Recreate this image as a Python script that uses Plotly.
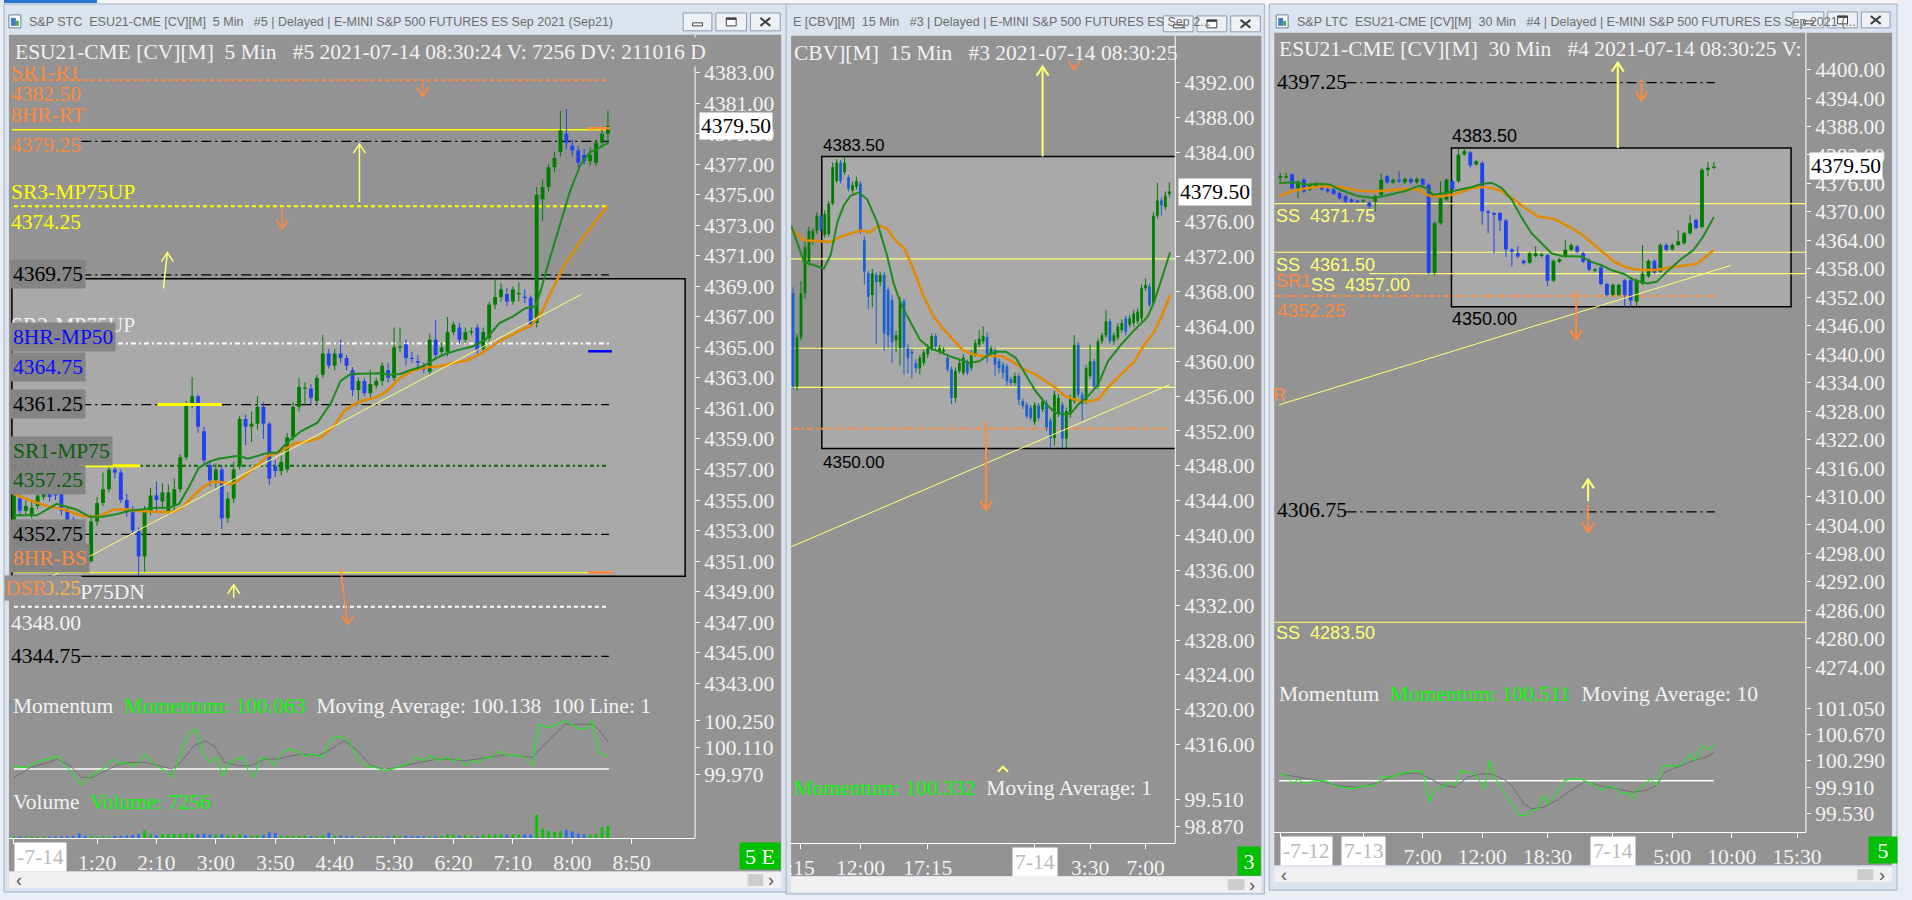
import plotly.graph_objects as go

# ======================= DATA =======================
# ---- Panel 1 : ESU21 5 Min (bar index 0..100, last bar = 08:30) ----
P1_OPEN = [4353.7,4355.1,4354.3,4354.0,4354.6,4355.2,4355.4,4355.4,4355.5,4354.3,
           4353.7,4353.5,4351.5,4351.0,4353.6,4354.8,4355.7,4357.0,4356.8,4355.0,
           4354.2,4353.0,4351.3,4354.3,4355.3,4354.9,4354.2,4354.6,4355.7,4357.8,
           4361.3,4361.8,4359.5,4357.3,4356.3,4357.0,4353.8,4355.1,4357.2,4360.3,
           4359.8,4360.0,4361.1,4360.0,4357.2,4356.9,4357.0,4359.1,4361.1,4362.3,
           4362.3,4361.5,4363.2,4364.6,4363.8,4364.6,4364.3,4363.5,4362.2,4362.8,
           4362.0,4362.5,4362.8,4363.5,4363.0,4365.0,4365.2,4364.3,4364.1,4363.8,
           4363.4,4365.5,4364.7,4364.7,4366.0,4366.3,4365.5,4366.0,4366.3,4364.9,
           4365.6,4367.8,4368.3,4368.5,4368.0,4368.5,4368.3,4368.25,4366.6,4374.7,
           4375.5,4376.8,4377.8,4379.0,4378.2,4377.9,4377.6,4377.2,4377.1,4378.4,
           4379.0]
P1_HIGH = [4355.6,4355.5,4355.0,4354.9,4355.8,4355.9,4355.7,4355.6,4355.8,4354.5,
           4353.9,4353.6,4351.8,4354.0,4355.2,4356.8,4357.3,4357.3,4357.0,4355.4,
           4354.6,4353.2,4354.6,4355.8,4356.2,4356.1,4356.0,4356.4,4358.0,4361.5,
           4363.05,4361.9,4359.8,4357.6,4357.4,4357.2,4355.5,4357.5,4360.5,4360.6,
           4360.8,4361.8,4361.4,4360.1,4357.6,4357.9,4359.4,4361.4,4363.0,4362.7,
           4362.6,4363.2,4365.8,4364.9,4364.9,4365.5,4364.5,4363.7,4363.0,4363.0,
           4363.5,4363.0,4364.0,4364.0,4366.3,4366.3,4365.5,4364.7,4364.5,4364.0,
           4365.9,4366.8,4365.3,4367.0,4366.7,4366.6,4366.3,4366.3,4366.5,4366.3,
           4368.0,4369.5,4369.2,4368.9,4369.0,4369.25,4368.8,4368.4,4375.5,4376.0,
           4377.0,4377.8,4380.5,4380.6,4378.6,4378.2,4378.0,4378.1,4378.6,4379.3,
           4380.5]
P1_LOW = [4353.5,4354.0,4354.0,4353.8,4354.4,4355.0,4354.9,4355.0,4354.0,4353.4,
          4353.2,4351.3,4350.5,4350.9,4353.3,4354.6,4355.5,4356.4,4354.8,4353.9,
          4352.8,4350.1,4350.3,4354.0,4354.3,4354.5,4354.0,4354.3,4355.5,4357.6,
          4361.0,4359.4,4357.3,4355.9,4355.8,4353.1,4353.5,4354.8,4357.0,4358.6,
          4358.8,4359.6,4359.0,4356.0,4356.5,4356.6,4356.8,4358.9,4360.8,4361.2,
          4361.3,4361.3,4363.0,4363.6,4363.5,4364.0,4363.5,4361.8,4361.5,4361.8,
          4361.7,4362.3,4362.5,4362.7,4362.8,4364.7,4363.8,4364.0,4363.6,4363.3,
          4363.2,4364.2,4364.4,4364.4,4365.8,4365.2,4365.3,4365.8,4364.5,4364.6,
          4365.4,4367.5,4368.0,4367.7,4367.8,4368.0,4367.9,4366.3,4366.3,4373.3,
          4375.2,4376.5,4377.5,4378.0,4377.5,4376.8,4377.0,4376.9,4376.9,4378.2,
          4378.3]
P1_CLOSE = [4355.3,4354.3,4354.6,4354.5,4355.3,4355.4,4355.2,4355.3,4354.3,4353.7,
            4353.5,4351.5,4351.0,4353.6,4354.8,4355.7,4357.0,4356.8,4355.0,4354.2,
            4353.0,4351.3,4354.3,4355.3,4355.0,4355.5,4355.5,4355.7,4357.8,4361.3,
            4361.8,4359.8,4357.6,4356.3,4357.0,4353.8,4355.1,4357.0,4360.3,4359.8,
            4360.0,4361.1,4360.0,4356.4,4356.9,4357.5,4359.1,4361.1,4362.4,4362.35,
            4361.7,4363.0,4364.6,4363.8,4364.6,4364.3,4363.8,4362.2,4362.8,4362.0,
            4362.6,4362.8,4363.8,4363.0,4365.0,4365.05,4364.3,4364.25,4364.0,4363.55,
            4365.5,4364.5,4365.0,4366.0,4366.5,4365.5,4366.0,4366.05,4364.8,4366.0,
            4367.8,4368.3,4368.8,4368.0,4368.8,4368.55,4368.25,4366.5,4375.0,4375.5,
            4376.8,4377.4,4379.2,4378.4,4377.9,4377.1,4377.2,4377.6,4378.4,4379.0,
            4379.5]
P1_VOLUME = [1100,900,1000,900,1000,1100,900,1000,1200,1300,1400,3000,
             1500,1300,1000,1200,1000,1400,1300,1700,2000,2600,4800,
             2200,1800,2400,2600,2500,2700,2800,2600,
             2400,2800,2300,2100,2500,2000,1800,2300,2000,1600,1700,
             1900,3400,3300,1500,1400,1300,1400,1500,1300,1200,1700,3300,
             1600,1500,1200,1300,900,1000,1100,1200,1000,1300,
             1500,1300,1500,1200,1400,1300,1100,1200,1400,2200,2000,1600,1800,1500,1300,2000,
             2300,2200,2400,2100,2400,2300,2200,2100,14000,
             5700,4600,3800,4400,5000,4000,3000,2400,2200,2600,6700,7256]
P1_MA_FAST_X = [0,3.9,7.2,10.6,12.8,15,17.2,19.4,21.7,23.9,26.1,27.8,29.4,31.1,32.8,34.4,36.1,37.8,
                39.4,41.1,42.8,44.4,46.1,48.3,51.1,53.3,55,56.7,60,61.7,63.3,65,66.7,68.9,71.1,
                72.8,75,77.2,79.4,81.7,83.9,86.1,87.8,88.9,90.2,91.9,93.6,95.3,97,98.2,100]
P1_MA_FAST = [4354.0,4354.0,4354.75,4354.36,4353.9,4353.9,4354.06,4354.3,4354.4,4354.5,4354.5,
              4354.75,4355.8,4357.1,4357.5,4357.7,4357.8,4357.9,4357.7,4357.9,4358.1,4358.1,
              4358.8,4359.5,4360.07,4361.3,4362.8,4363.26,4363.3,4363.3,4363.2,4363.26,4363.5,
              4363.76,4364.3,4364.6,4364.85,4365.06,4365.5,4366.58,4367.0,4367.56,4367.67,
              4369.0,4370.8,4373.0,4375.2,4376.9,4377.8,4378.0,4378.4]
P1_MA_SLOW_X = [0,2.8,5.6,8.3,11.1,12.8,14.4,16.7,18.9,20.6,22.8,25,26.7,28.3,30,31.7,33.3,35,
                36.7,38.3,40.6,42.8,45,47.2,49.4,51.7,53.9,55.6,57.2,58.9,61.1,62.8,65,67.2,
                69.4,71.7,73.9,76.1,78.3,80,82.2,84.4,87.2,88.9,90.4,92.7,95.3,97.8,100]
P1_MA_SLOW = [4355.4,4354.97,4354.6,4354.4,4354.0,4353.9,4353.93,4354.36,4354.4,4354.3,4354.25,
              4354.2,4354.2,4354.5,4355.2,4355.8,4356.2,4356.16,4356.05,4356.4,4357.14,4357.9,
              4358.2,4358.7,4358.83,4359.1,4359.85,4360.83,4361.26,4361.52,4361.74,4362.13,
              4363.0,4363.48,4363.7,4363.76,4363.98,4364.13,4364.52,4364.95,4365.5,4365.93,
              4366.47,4367.34,4368.6,4370.4,4371.9,4373.2,4374.27]
P1_MOM_X = [0,2.05,4.3,5.8,7.26,8.4,9.5,11.35,12.5,14,15.4,16.6,17.7,18.8,19.9,21,22.1,23.3,24.4,
            25.5,26.5,27.3,28.5,29.6,30.7,31.8,32.9,34.05,35.2,36.3,37.4,38.5,39.6,40.4,41.5,
            42.6,43.7,45.2,46.3,47.4,48.9,50.4,51.9,53.4,54.9,56.4,57.9,59.3,60.8,62.3,63.8,
            65.3,66.4,67.5,69,70.1,71.25,72.7,73.85,75,76.1,77.2,78.3,79.4,80.55,81.7,83.2,
            84.6,85.8,87.25,88.4,89.85,91.3,92.8,94.3,95.4,96.5,97.3,98.4,100.1]
P1_MOM = [100.013,100.008,100.043,100.051,100.069,100.025,99.991,99.913,99.956,99.982,100.008,
          100.051,100.025,100.034,100.017,100.034,100.077,100.034,100.008,99.991,99.956,100.008,
          100.120,100.189,100.207,100.086,100.034,100.060,99.965,100.034,100.051,100.060,99.982,
          99.956,100.051,100.060,100.017,100.086,100.103,100.094,100.069,100.077,100.060,100.155,
          100.172,100.146,100.051,100.017,100.008,99.991,99.999,100.017,100.025,100.060,100.043,
          100.069,100.043,100.060,100.043,100.051,100.017,100.043,100.034,100.060,100.060,
          100.094,100.069,100.072,100.063,100.017,100.233,100.215,100.233,100.250,100.224,
          100.207,100.215,100.250,100.086,100.063]
P1_MOM_MA_X = [0,2.8,5.8,7.26,9.5,11.35,13.2,15.4,17.7,19.9,22.1,24.4,26.6,28.1,30.3,32.2,33.7,
               35.5,37.8,40,42.2,44.5,46.7,48.9,51.2,53.4,55.6,57.9,60.1,62.3,64.6,66.8,69,
               71.25,73.5,75.7,77.9,80.2,82.4,84.6,87.25,89.1,91.3,92.8,95.1,97.3,98.4,100.1]
P1_MOM_MA = [99.956,100.008,100.034,100.051,100.017,99.956,99.956,99.991,100.025,100.034,
             100.034,100.017,99.999,100.034,100.120,100.146,100.120,100.034,100.017,100.017,
             100.051,100.051,100.069,100.077,100.069,100.103,100.146,100.094,100.017,99.999,
             100.008,100.025,100.037,100.051,100.051,100.043,100.051,100.060,100.072,100.069,
             100.060,100.120,100.189,100.233,100.233,100.233,100.207,100.138]
P1_LEVELS = [4382.50, 4379.25, 4378.50, 4374.25, 4369.75, 4365.25,
             4361.25, 4357.25, 4352.75, 4350.25, 4348.00, 4344.75]
P1_BOX = [4350.00, 4369.50]
P1_TREND_X = [0, 95.5]
P1_TREND_Y = [4348.67, 4368.47]
P1_PRICE_TICKS = [4343,4345,4347,4349,4351,4353,4355,4357,4359,4361,4363,4365,4367,4369,
                  4371,4373,4375,4377,4379,4381,4383]
P1_MOM_TICKS = [100.25, 100.11, 99.97]
P1_TIME_IDX = [0, 14, 24, 34, 44, 54, 64, 74, 84, 94, 104]
P1_TIME_TEXT = ['-7-14','1:20','2:10','3:00','3:50','4:40','5:30','6:20','7:10','8:00','8:50']
P1_TIME_BOXED = ['-7-14']

# ---- Panel 2 : 15 Min (bar index 0..95) ----
P2_OPEN = [4367.8,4357.1,4362.7,4367.8,4371.4,4373.7,4375.0,4376.6,4374.5,4374.6,
           4378.1,4380.7,4382.8,4381.7,4381.1,4379.6,4380.0,4380.4,4373.9,4370.1,
           4367.6,4369.9,4369.1,4369.9,4368.2,4367.0,4362.4,4361.5,4366.9,4361.5,
           4361.1,4359.8,4359.2,4359.8,4360.8,4361.5,4362.9,4361.1,4361.1,4360.4,
           4359.1,4355.8,4358.9,4358.7,4359.8,4359.2,4360.8,4361.9,4362.3,4362.8,
           4360.8,4361.3,4360.0,4359.6,4359.4,4357.9,4357.5,4358.3,4355.4,4355.0,
           4354.7,4353.0,4354.9,4354.5,4355.2,4353.2,4351.2,4354.0,4355.0,4351.1,
           4353.9,4355.4,4361.9,4356.2,4355.4,4358.3,4360.0,4357.1,4362.3,4363.0,
           4364.6,4362.3,4362.7,4363.6,4364.9,4364.2,4364.4,4364.6,4364.95,4368.4,
           4368.6,4366.7,4376.7,4378.45,4377.7,4379.2]
P2_HIGH = [4368.5,4363.2,4369.2,4373.9,4375.5,4375.3,4377.1,4376.9,4377.3,4378.4,
           4382.8,4383.2,4383.1,4383.5,4381.4,4380.6,4381.2,4380.7,4374.3,4370.4,
           4370.6,4370.2,4370.3,4370.2,4368.5,4367.6,4363.5,4367.4,4367.2,4362.0,
           4361.4,4360.2,4360.7,4361.4,4362.0,4363.2,4363.2,4361.9,4361.6,4360.8,
           4359.4,4359.3,4360.2,4360.8,4360.2,4361.3,4362.5,4363.6,4364.0,4363.3,
           4361.8,4361.6,4360.3,4359.9,4359.7,4358.2,4358.7,4358.6,4355.7,4355.3,
           4355.0,4355.3,4355.2,4355.8,4355.6,4353.5,4356.6,4356.2,4355.3,4354.7,
           4356.2,4363.0,4362.2,4356.5,4359.6,4361.9,4360.3,4362.6,4363.3,4365.9,
           4364.9,4363.3,4364.4,4364.8,4365.2,4365.3,4365.9,4366.1,4368.8,4369.5,
           4368.9,4377.1,4380.5,4378.8,4379.5,4380.55]
P2_LOW = [4356.8,4356.6,4362.4,4367.2,4371.0,4373.3,4374.6,4374.9,4374.2,4374.3,
          4377.9,4380.5,4380.4,4381.4,4379.5,4379.3,4379.7,4374.6,4368.8,4366.0,
          4366.2,4362.0,4368.6,4361.2,4361.5,4359.8,4361.0,4359.5,4358.5,4358.6,
          4358.0,4358.7,4358.5,4359.5,4360.4,4361.2,4361.2,4360.8,4360.9,4358.8,
          4355.1,4355.3,4358.6,4358.4,4358.4,4358.9,4360.5,4361.6,4362.0,4359.8,
          4360.5,4358.3,4358.6,4358.0,4357.2,4357.2,4357.2,4355.0,4354.5,4353.4,
          4353.2,4352.7,4353.2,4354.2,4352.0,4350.0,4350.3,4353.6,4350.1,4350.0,
          4353.5,4355.1,4355.8,4353.2,4355.1,4358.0,4356.8,4356.8,4362.0,4362.7,
          4362.0,4361.9,4362.4,4363.3,4363.0,4363.9,4364.0,4364.3,4364.6,4368.1,
          4366.2,4366.4,4376.4,4376.7,4377.4,4378.9]
P2_CLOSE = [4357.1,4362.7,4367.8,4373.1,4375.0,4375.0,4376.7,4375.2,4376.9,4378.1,
            4382.3,4382.8,4380.7,4382.8,4379.8,4380.2,4380.7,4375.0,4370.3,4367.4,
            4370.1,4369.1,4369.9,4363.2,4363.0,4362.2,4363.0,4366.9,4361.5,4360.4,
            4360.9,4359.2,4360.4,4361.0,4361.5,4362.9,4361.7,4361.5,4361.3,4359.1,
            4355.8,4358.9,4359.8,4360.4,4358.7,4360.9,4362.1,4362.6,4362.9,4360.8,
            4361.5,4359.6,4359.2,4358.7,4357.7,4357.5,4358.3,4355.6,4354.9,4353.7,
            4353.5,4355.0,4353.5,4355.4,4352.4,4351.2,4356.2,4355.8,4351.1,4354.3,
            4355.8,4361.9,4356.2,4355.1,4359.2,4360.0,4357.1,4362.3,4363.0,4364.6,
            4362.3,4363.0,4364.0,4364.4,4363.4,4364.95,4365.5,4365.7,4368.4,4368.75,
            4366.5,4376.7,4378.45,4377.9,4379.0,4379.5]
P2_MA_FAST_X = [-0.5,2.8,7.8,9.5,11.2,12.8,14.5,16.6,18.7,21.2,23.7,25.3,27,28.7,32,34.5,37,
                39.5,42,44.5,47,49.5,51.2,53.7,56.2,58.7,61.2,63.7,66.2,68.7,70.3,72,74.5,77,
                79.5,82.8,86.2,89.5,91.2,92.8,95.2]
P2_MA_FAST = [4375.6,4371.4,4370.65,4372.2,4375.98,4377.9,4379.0,4379.4,4378.6,4376.0,4372.2,
              4369.1,4366.85,4365.3,4362.5,4361.5,4361.1,4360.6,4360.2,4359.8,4360.0,4360.8,
              4361.1,4361.1,4360.4,4358.5,4356.6,4355.2,4354.1,4353.9,4354.1,4355.05,4356.0,
              4357.3,4360.0,4361.9,4363.6,4365.1,4366.85,4369.1,4372.5]
P2_MA_SLOW_X = [-0.5,1.2,2.8,6.2,9.5,12,14.5,17,19.5,21.6,23.7,26.2,28.2,30.3,32.8,35.3,37.8,
                40.3,42.8,45.3,47.8,50.3,52.8,55.3,57.8,61.2,63.7,66.2,68.7,71.2,73.7,77,79.5,
                82.8,86.2,88.7,91.2,93.2,95.2]
P2_MA_SLOW = [4375.2,4374.5,4373.9,4373.8,4373.7,4374.3,4374.65,4375.0,4374.8,4375.6,4375.2,
              4373.7,4372.9,4370.65,4367.6,4365.3,4363.8,4362.5,4361.3,4360.8,4360.6,4360.6,
              4360.6,4360.0,4359.2,4358.5,4357.7,4357.0,4356.0,4355.6,4355.35,4355.6,4357.0,
              4358.5,4360.0,4361.9,4363.4,4365.3,4367.6]
P2_LEVELS = [4371.75, 4361.50, 4357.00, 4352.25]
P2_BOX = [4350.00, 4383.50]
P2_TREND_X = [-0.5, 95]
P2_TREND_Y = [4338.7, 4357.3]
P2_PRICE_TICKS = [4316,4320,4324,4328,4332,4336,4340,4344,4348,4352,4356,4360,4364,4368,
                  4372,4376,4384,4388,4392]
P2_MOM_TICKS = [99.51, 98.87]
P2_TIME_IDX = [2, 17, 34, 61, 75, 89]
P2_TIME_TEXT = [':15', '12:00', '17:15', '7-14', '3:30', '7:00']
P2_TIME_BOXED = ['7-14']

# ---- Panel 3 : 30 Min (bar index 0..73) ----
P3_OPEN = [4377.2,4377.3,4377.9,4375.0,4376.8,4374.7,4375.4,4375.7,4374.8,4374.7,
           4374.0,4373.3,4372.6,4372.25,4372.3,4371.9,4372.2,4373.6,4377.5,4376.2,
           4376.8,4376.24,4376.94,4376.24,4376.94,4375.74,4357.2,4367.6,4372.6,4376.45,
           4376.45,4382.1,4382.6,4380.0,4380.33,4370.1,4369.75,4369.75,4368.2,4362.1,
           4361.3,4359.7,4359.3,4360.7,4360.7,4360.9,4355.5,4359.5,4360.6,4362.0,
           4362.7,4361.3,4359.9,4357.6,4358.3,4354.8,4352.5,4352.5,4355.6,4355.6,
           4351.1,4354.9,4356.4,4359.7,4357.4,4363.05,4362.1,4363.05,4363.4,4365.5,
           4368.3,4366.8,4378.9,4379.3]
P3_HIGH = [4378.2,4378.3,4378.1,4376.7,4377.2,4376.0,4376.4,4376.0,4375.1,4375.0,
           4374.3,4373.6,4372.9,4372.5,4372.7,4372.2,4373.6,4378.2,4377.8,4377.1,
           4378.56,4377.3,4377.3,4377.3,4377.2,4376.0,4368.0,4376.45,4377.1,4376.8,
           4383.15,4383.5,4382.9,4381.0,4380.7,4370.4,4370.0,4370.0,4368.5,4362.4,
           4362.8,4360.0,4361.6,4362.8,4361.4,4361.2,4360.0,4360.3,4364.1,4363.4,
           4363.0,4361.6,4360.2,4358.2,4358.6,4355.1,4354.9,4354.9,4355.9,4355.9,
           4356.0,4363.0,4360.0,4360.0,4363.4,4363.4,4363.4,4366.2,4365.8,4369.4,
           4368.6,4379.3,4380.54,4380.54]
P3_LOW = [4376.1,4377.0,4374.7,4372.9,4374.0,4374.4,4375.1,4374.5,4374.0,4373.5,
          4372.6,4371.9,4371.9,4371.9,4372.0,4370.5,4370.1,4373.3,4375.9,4375.9,
          4376.1,4375.9,4375.9,4375.9,4375.4,4356.9,4356.7,4367.3,4372.3,4374.5,
          4376.1,4381.8,4379.3,4379.7,4367.3,4365.5,4361.3,4366.0,4360.5,4358.5,
          4360.3,4358.9,4359.0,4360.4,4360.4,4354.4,4355.2,4359.2,4360.3,4361.7,
          4361.3,4359.2,4357.5,4357.3,4354.5,4352.2,4352.2,4352.2,4350.0,4350.0,
          4350.1,4354.6,4356.1,4356.9,4357.1,4361.7,4361.8,4362.8,4363.1,4365.2,
          4366.3,4366.5,4377.5,4379.0]
P3_CLOSE = [4377.5,4377.5,4375.0,4376.4,4374.3,4375.7,4376.1,4374.8,4374.3,4373.8,
            4372.9,4372.2,4372.15,4372.2,4372.36,4371.2,4373.3,4376.8,4376.2,4376.8,
            4376.45,4376.94,4376.24,4376.94,4375.74,4357.2,4367.6,4372.9,4376.8,4374.8,
            4382.1,4382.8,4379.8,4380.7,4370.1,4369.75,4369.4,4368.2,4362.1,4361.6,
            4360.6,4359.2,4361.3,4361.3,4361.1,4355.5,4359.7,4360.0,4362.0,4363.05,
            4361.6,4359.5,4357.8,4357.9,4354.8,4352.5,4354.6,4354.6,4352.5,4351.3,
            4355.6,4357.0,4359.7,4357.2,4363.05,4362.0,4363.05,4363.75,4365.5,4367.6,
            4366.6,4378.9,4379.3,4379.5]
P3_MA_FAST_X = [-0.17,2.33,4.56,6.78,8.44,10.1,12.9,15.7,18.4,21.2,23.4,24.6,25.7,27.9,30.1,
                32.3,34,35.7,37.3,39,40.7,42.3,44,45.7,47.3,49,50.7,52.3,54,55.7,57.9,59.6,
                61.8,63.4,65.1,67.3,69.6,71.2,73]
P3_MA_FAST = [4376.1,4376.24,4375.74,4375.95,4375.74,4374.68,4373.41,4372.92,4373.63,4374.47,
              4375.53,4375.04,4373.63,4373.98,4374.68,4375.25,4375.95,4376.1,4375.04,4372.57,
              4368.69,4365.52,4363.4,4361.28,4360.72,4360.72,4360.58,4359.52,4358.82,4357.76,
              4356.91,4355.64,4354.94,4355.29,4357.41,4359.87,4361.99,4364.81,4368.9]
P3_MA_SLOW_X = [-0.17,1.78,4.56,7.33,10.1,12.9,15.7,18.4,21.2,23.4,25.1,26.8,29,30.7,32.3,34,
                35.7,37.3,39,41.2,43.4,46.2,47.9,49.6,51.2,52.9,54.6,56.2,57.9,59.6,61.2,63.4,
                65.7,67.9,70.1,71.8,73]
P3_MA_SLOW = [4373.27,4374.33,4375.04,4375.39,4375.25,4374.54,4374.33,4374.54,4374.83,4374.68,
              4373.41,4373.27,4373.63,4374.33,4375.04,4375.25,4375.04,4374.33,4372.92,4370.81,
              4369.04,4368.48,4367.28,4366.22,4364.81,4363.05,4361.28,4359.52,4358.46,4357.9,
              4357.76,4357.76,4358.32,4358.6,4359.03,4360.72,4361.99]
P3_MOM_X = [-0.1,1.05,2.07,3.09,4.1,5.12,6.47,7.83,9.18,10.54,11.9,13.25,14.27,15.28,16.3,17.3,
            18.67,20,21.4,22.7,24.1,25.1,26.1,27.5,28.8,29.5,30.5,31.5,32.9,34.3,35.3,36.3,
            37.6,39,40.35,41.4,42.4,43.4,44.4,45.1,46.4,47.8,49.2,50.5,51.9,53.2,54.2,55.25,
            56.6,57.6,58.6,59.3,60.3,61.4,62.4,63.4,64.4,65.4,66.8,68.1,69.1,69.8,71.2,72.2,73.1]
P3_MOM = [100.099,100.075,99.955,100.027,99.955,99.989,100.003,100.003,99.931,99.907,99.883,
          99.907,99.931,99.922,99.955,100.065,100.051,100.099,100.123,100.147,100.123,99.692,
          99.883,99.931,99.979,99.931,100.147,100.123,100.099,99.883,100.290,100.027,99.836,
          99.668,99.501,99.501,99.573,99.597,99.788,99.668,99.788,100.003,100.027,100.027,
          99.979,99.931,99.860,99.931,99.883,99.812,99.836,99.750,99.883,99.955,100.027,
          99.931,100.194,100.228,100.209,100.266,100.386,100.290,100.505,100.448,100.511]
P3_MOM_MA_X = [-0.1,3.09,6.47,9.86,13.25,16.64,20,23.4,24.8,27.5,29.5,31.5,33.6,35.6,37.6,39,
               41,42.4,44.4,46.4,48.5,51.2,53.9,56.6,59.3,61.4,63.4,64.7,66.8,69.5,71.5,73.1]
P3_MOM_MA = [100.099,100.051,100.003,99.931,99.907,99.979,100.099,100.113,100.051,99.931,
             99.907,100.051,100.099,100.099,100.027,99.931,99.668,99.597,99.620,99.716,99.836,
             99.989,99.931,99.883,99.836,99.860,99.931,100.123,100.194,100.290,100.338,100.410]
P3_LEVELS = [4397.25, 4371.75, 4361.50, 4357.00, 4352.25, 4306.75, 4283.50]
P3_BOX = [4350.00, 4383.50]
P3_TREND_X = [-0.17, 75.8]
P3_TREND_Y = [4329.35, 4358.7]
P3_PRICE_TICKS = [4274,4280,4286,4292,4298,4304,4310,4316,4322,4328,4334,4340,4346,4352,
                  4358,4364,4370,4376,4382,4388,4394,4400]
P3_MOM_TICKS = [101.05, 100.67, 100.29, 99.91, 99.53]
P3_TIME_IDX = [0, 14, 24, 34, 45, 56, 66, 76, 87]
P3_TIME_TEXT = ['-7-12', '7-13', '7:00', '12:00', '18:30', '7-14', '5:00', '10:00', '15:30']
P3_TIME_BOXED = ['-7-12', '7-13', '7-14']

LAST_PRICE = 4379.50

# ======================= STYLE / LAYOUT =======================
W, H = 1912, 900
def fx(p): return p / W
def fy(p): return 1 - p / H

SERIF = "Liberation Serif"
SANS = "Liberation Sans"
BG = "#939393"
BOXC = "#a9a9a9"
LBL = "#848484"
GREEN = "#007d00"
BLUE1 = "#2142f0"
BLUE2 = "#1a62d0"
MA_G = "#1d8a1d"
MA_O = "#e48a00"
YEL = "#ffff00"
PYEL = "#ffff73"
ORA = "#ff8a3d"
WHITE = "#f2f2f2"
FRAME = "#dae3ee"
FRAME_LINE = "#a3b2c6"

fig = go.Figure()
shapes = []
ann = []

def rect(x0, y0, x1, y1, fill, line=None, lw=1, layer='below'):
    shapes.append(dict(type='rect', xref='paper', yref='paper', x0=fx(x0), x1=fx(x1),
                       y0=fy(y1), y1=fy(y0), fillcolor=fill, layer=layer,
                       line=dict(color=line or fill, width=lw if line else 0)))

def pline(x0, y0, x1, y1, color, width=1, layer='above'):
    shapes.append(dict(type='line', xref='paper', yref='paper', x0=fx(x0), x1=fx(x1),
                       y0=fy(y0), y1=fy(y1), line=dict(color=color, width=width), layer=layer))

def txt(x, y, s, color, size=21.5, family=SERIF, xanchor='left', bg=None, pad=0, w=None, h=None):
    d = dict(xref='paper', yref='paper', x=fx(x), y=fy(y), text=s, showarrow=False,
             xanchor=xanchor, yanchor='middle', font=dict(family=family, size=size, color=color),
             bgcolor=bg or 'rgba(0,0,0,0)', borderpad=pad)
    if w: d['width'] = w
    if h: d['height'] = h
    ann.append(d)

# ---------- window chrome ----------
rect(0, 0, 1912, 5, "#f7f7f7")
rect(0, 0, 94, 3, "#2b76d2")

def window(x0, x1, y0, y1, ix0, ix1, iy0, iy1, title, tx, icon, buttons, scroll, thumb, arrows):
    rect(x0, y0, x1, y1, FRAME, FRAME_LINE, 1)
    rect(ix0, iy0, ix1, iy1, BG)
    if icon:
        rect(icon, 15, icon + 12, 28, "#ffffff", "#6a7f99", 1)
        rect(icon + 2, 18, icon + 7, 26, "#3f7fc4")
        rect(icon + 7, 21, icon + 10, 26, "#49a84a")
    txt(tx, 22, title, "#6c6c6c", size=12.5, family=SANS)
    for k, (bx0, bx1, by0, by1) in enumerate(buttons):
        rect(bx0, by0, bx1, by1, "#edf1f6", "#8d9cb1", 1)
        cx, cy = (bx0 + bx1) / 2, (by0 + by1) / 2
        if k == 0:
            rect(cx - 5, cy + 1, cx + 5, cy + 4, "#ffffff", "#404040", 1, layer='above')
        elif k == 1:
            rect(cx - 5, cy - 4, cx + 5, cy + 4, "#ffffff", "#404040", 1, layer='above')
            pline(cx - 5, cy - 3, cx + 5, cy - 3, "#404040", 2)
        else:
            pline(cx - 5, cy - 4, cx + 5, cy + 4, "#404040", 2)
            pline(cx - 5, cy + 4, cx + 5, cy - 4, "#404040", 2)
    sx0, sx1, sy0, sy1 = scroll
    rect(sx0, sy0, sx1, sy1, "#f0f0f0")
    rect(thumb[0], sy0 + 2, thumb[1], sy1 - 2, "#cdcdcd")
    if arrows[0]:
        txt(sx0 + 6, (sy0 + sy1) / 2, "‹", "#555555", size=18, family=SANS)
    if arrows[1]:
        txt(sx1 - 14, (sy0 + sy1) / 2, "›", "#555555", size=18, family=SANS)

window(0, 793, 4, 897, 5, 785, 35, 876,
       "S&P STC\u00a0\u00a0ESU21-CME [CV][M]\u00a0\u00a05 Min\u00a0\u00a0\u00a0#5 | Delayed | E-MINI S&P 500 FUTURES ES Sep 2021 (Sep21)",
       24, 5, [(686, 715, 13, 31), (719, 750, 13, 31), (754, 784, 13, 31)],
       (5, 785, 877, 893), (751, 767), (True, True))
window(790, 1273, 4, 899, 795, 1270, 36, 881,
       "E [CBV][M]\u00a0\u00a015 Min\u00a0\u00a0\u00a0#3 | Delayed | E-MINI S&P 500 FUTURES ES Sep 2...",
       796, None, [(1171, 1201, 16, 32), (1205, 1235, 16, 32), (1239, 1269, 16, 32)],
       (795, 1270, 882, 897), (1236, 1253), (False, True))
window(1278, 1912, 4, 895, 1283, 1907, 33, 870,
       "S&P LTC\u00a0\u00a0ESU21-CME [CV][M]\u00a0\u00a030 Min\u00a0\u00a0\u00a0#4 | Delayed | E-MINI S&P 500 FUTURES ES Sep 2021 (...",
       1305, 1285, [(1807, 1838, 12, 28), (1842, 1872, 12, 28), (1876, 1905, 12, 28)],
       (1283, 1907, 872, 887), (1872, 1888), (True, True))

# ---------- axes ----------
TF = dict(family=SERIF, size=21.5, color=WHITE)
layout_axes = {}

def xaxis(name, d0, d1, r0, r1, anchor, idx=None, text=None, boxed=()):
    a = dict(domain=[fx(d0), fx(d1)], range=[r0, r1], anchor=anchor, showgrid=False,
             zeroline=False, fixedrange=True)
    if idx is None:
        a['visible'] = False
    else:
        a.update(showline=True, linecolor='white', linewidth=1, ticks='outside', ticklen=5,
                 tickcolor='white', tickvals=idx,
                 ticktext=['' if t in boxed else t for t in text], tickfont=TF, tickangle=0)
    layout_axes[name] = a

def yaxis(name, top, bot, vtop, vbot, anchor, ticks=None, fmt="{:.2f}"):
    a = dict(domain=[fy(bot), fy(top)], range=[vbot, vtop], anchor=anchor, side='right',
             showgrid=False, zeroline=False, showline=False, fixedrange=True)
    if ticks is None:
        a['visible'] = False
    else:
        a.update(ticks='outside', ticklen=4, tickcolor='white', tickvals=ticks,
                 ticktext=[fmt.format(t) for t in ticks], tickfont=TF)
    layout_axes[name] = a

# pixel <-> data conversions per panel
P1X = lambda px: (px - 10) / 6.0
P2X = lambda px: (px - 797) / 4.0
P3X = lambda px: (px - 1289) / 6.0
P1Y = lambda py: 4383 - (py - 73) / 15.35
P2Y = lambda py: 4392 - (py - 83) / 8.76
P3Y = lambda py: 4400 - (py - 70) / 4.77

# Panel 1
xaxis('xaxis', 5, 698, P1X(5), P1X(698), 'y')
xaxis('xaxis2', 5, 698, P1X(5), P1X(698), 'y2')
xaxis('xaxis3', 5, 698, P1X(5), P1X(698), 'y3', P1_TIME_IDX, P1_TIME_TEXT, P1_TIME_BOXED)
yaxis('yaxis', 35, 695, P1Y(35), P1Y(695), 'x', P1_PRICE_TICKS)
yaxis('yaxis2', 700, 790, 100.25 + 25 * 0.005185, 100.25 - 65 * 0.005185, 'x2', P1_MOM_TICKS, "{:.3f}")
yaxis('yaxis3', 800, 843, 25400, 0, 'x3')
# Panel 2
xaxis('xaxis4', 795, 1183, P2X(795), P2X(1183), 'y4')
xaxis('xaxis5', 795, 1183, P2X(795), P2X(1183), 'y5', P2_TIME_IDX, P2_TIME_TEXT, P2_TIME_BOXED)
yaxis('yaxis4', 36, 765, P2Y(36), P2Y(765), 'x4', P2_PRICE_TICKS)
yaxis('yaxis5', 775, 848, 99.51 + 29 * 0.0237, 99.51 - 44 * 0.0237, 'x5', P2_MOM_TICKS, "{:.3f}")
# Panel 3
xaxis('xaxis6', 1283, 1820, P3X(1283), P3X(1820), 'y6')
xaxis('xaxis7', 1283, 1820, P3X(1283), P3X(1820), 'y7', P3_TIME_IDX, P3_TIME_TEXT, P3_TIME_BOXED)
yaxis('yaxis6', 33, 680, P3Y(33), P3Y(680), 'x6', P3_PRICE_TICKS)
yaxis('yaxis7', 688, 837, 101.05 + 24 * 0.01434, 101.05 - 125 * 0.01434, 'x7', P3_MOM_TICKS, "{:.3f}")

# vertical white axis lines
pline(698, 35, 698, 843, 'white', 1)
pline(1183, 36, 1183, 848, 'white', 1)
pline(1820, 33, 1820, 837, 'white', 1)

# boxed date labels
def boxed_labels(xa, idx, text, boxed, ypx):
    for i, t in zip(idx, text):
        if t in boxed:
            ann.append(dict(xref=xa, yref='paper', x=i, y=fy(ypx), text=t, showarrow=False,
                            xanchor='left' if t.startswith('-') else 'center', yanchor='middle',
                            font=dict(family=SERIF, size=21.5, color='#b9b9b9'),
                            bgcolor='#ffffff', borderpad=2))
boxed_labels('x3', P1_TIME_IDX, P1_TIME_TEXT, P1_TIME_BOXED, 862)
boxed_labels('x5', P2_TIME_IDX, P2_TIME_TEXT, P2_TIME_BOXED, 867)
boxed_labels('x7', P3_TIME_IDX, P3_TIME_TEXT, P3_TIME_BOXED, 856)

# ---------- helpers for data drawing ----------
def hline(xa, ya, y, x0, x1, color, width=1, dash='solid', layer='below'):
    shapes.append(dict(type='line', xref=xa, yref=ya, x0=x0, x1=x1, y0=y, y1=y,
                       line=dict(color=color, width=width, dash=dash), layer=layer))

def dbox(xa, ya, x0, x1, y0, y1):
    shapes.append(dict(type='rect', xref=xa, yref=ya, x0=x0, x1=x1, y0=y0, y1=y1,
                       fillcolor=BOXC, line=dict(color='black', width=1.5), layer='below'))

def arrow(xa, ya, xt, yt, xh, yh, color, up, w=1.5):
    shapes.append(dict(type='line', xref=xa, yref=ya, x0=xt, x1=xh, y0=yt, y1=yh,
                       line=dict(color=color, width=w), layer='above'))
    d = -9 if up else 9
    shapes.append(dict(type='path', xref=xa, yref=ya, xsizemode='pixel', ysizemode='pixel',
                       xanchor=xh, yanchor=yh, path=f"M -6 {d} L 0 0 L 6 {d}",
                       line=dict(color=color, width=w), layer='above'))

def candles(o, h, l, c, xa, ya, up, dn, width, minh):
    idx = list(range(len(o)))
    base, hgt, cols = [], [], []
    for a, b in zip(o, c):
        lo, hi = min(a, b), max(a, b)
        if hi - lo < minh:
            m = (hi + lo) / 2
            lo, hi = m - minh / 2, m + minh / 2
        base.append(lo); hgt.append(hi - lo)
        cols.append(up if b >= a else dn)
    for col in (up, dn):
        xs, ys = [], []
        for i in idx:
            if cols[i] == col:
                xs += [i, i, None]; ys += [l[i], h[i], None]
        fig.add_trace(go.Scatter(x=xs, y=ys, mode='lines', line=dict(color=col, width=1),
                                 xaxis=xa, yaxis=ya, hoverinfo='skip'))
    fig.add_trace(go.Bar(x=idx, y=hgt, base=base, width=width, xaxis=xa, yaxis=ya,
                         marker=dict(color=cols, line=dict(width=0)), hoverinfo='skip'))
    return cols

def line(x, y, xa, ya, color, width):
    fig.add_trace(go.Scatter(x=x, y=y, mode='lines', line=dict(color=color, width=width),
                             xaxis=xa, yaxis=ya, hoverinfo='skip'))

DASHDOT = "10px,4px,2px,4px"
DOTTED = "4px,3px"

# ======================= PANEL 1 =======================
dbox('x', 'y', P1X(8), P1X(688), P1_BOX[0], P1_BOX[1])
p1_styles = [  # color, width, dash, x0px, x1px
    (ORA, 2, DOTTED, 10, 611),
    (YEL, 1.5, 'solid', 8, 611),
    ('black', 1.2, DASHDOT, 78, 611),
    (YEL, 2, DOTTED, 10, 611),
    ('black', 1.2, DASHDOT, 78, 611),
    ('white', 2, "5px,3px,2px,3px", 10, 611),
    ('black', 1.2, DASHDOT, 78, 611),
    ('#006a00', 2, "4px,3px,2px,3px", 10, 611),
    ('black', 1.2, DASHDOT, 78, 611),
    (YEL, 1, 'solid', 10, 611),
    ('white', 2, DOTTED, 10, 611),
    ('black', 1.2, DASHDOT, 78, 611),
]
for lv, (col, wd, ds, a, b) in zip(P1_LEVELS, p1_styles):
    hline('x', 'y', lv, P1X(a), P1X(b), col, wd, ds)
# short marker segments
hline('x', 'y', P1_LEVELS[1] + 0.1, P1X(589), P1X(612), ORA, 2.5, layer='above')
hline('x', 'y', 4364.75, P1X(590), P1X(614), '#0000ff', 2.5, layer='above')
hline('x', 'y', P1_LEVELS[9], P1X(590), P1X(614), ORA, 2.5, layer='above')
hline('x', 'y', P1_LEVELS[6], P1X(155), P1X(220), YEL, 3, layer='above')
hline('x', 'y', P1_LEVELS[7], P1X(77), P1X(137), YEL, 3, layer='above')

p1cols = candles(P1_OPEN, P1_HIGH, P1_LOW, P1_CLOSE, 'x', 'y', GREEN, BLUE1, 0.65, 0.08)
line(P1_MA_SLOW_X, P1_MA_SLOW, 'x', 'y', MA_O, 2.5)
line(P1_MA_FAST_X, P1_MA_FAST, 'x', 'y', MA_G, 2)
line(P1_TREND_X, P1_TREND_Y, 'x', 'y', PYEL, 1)

arrow('x', 'y', P1X(423), P1Y(83), P1X(423), P1Y(97), ORA, False)
arrow('x', 'y', P1X(359), P1Y(203), P1X(359), P1Y(145), PYEL, True)
arrow('x', 'y', P1X(281), P1Y(208), P1X(281), P1Y(230), ORA, False)
arrow('x', 'y', P1X(161), P1Y(290), P1X(165), P1Y(254), PYEL, True)
arrow('x', 'y', P1X(232), P1Y(601), P1X(232), P1Y(588), PYEL, True)
arrow('x', 'y', P1X(340), P1Y(572), P1X(347), P1Y(628), ORA, False)

# momentum + volume
hline('x2', 'y2', 100.0, 0, P1X(611), 'white', 1.5, layer='below')
line(P1_MOM_MA_X, P1_MOM_MA, 'x2', 'y2', '#6f6f6f', 1)
line(P1_MOM_X, P1_MOM, 'x2', 'y2', '#00ff00', 1)
vcols = ['#00c800' if c == GREEN else '#1f6cff' for c in p1cols]
fig.add_trace(go.Bar(x=list(range(len(P1_VOLUME))), y=P1_VOLUME, width=0.45, xaxis='x3', yaxis='y3',
                     marker=dict(color=vcols, line=dict(width=0)), hoverinfo='skip'))

# labels panel 1
txt(6, 72, "SR1-RT", ORA)
txt(8, 52, "ESU21-CME [CV][M]\u00a0\u00a05 Min\u00a0\u00a0\u00a0#5 2021-07-14 08:30:24 V: 7256 DV: 211016 D",
    WHITE, bg=BG, pad=2)
txt(6, 95, "4382.50", ORA)
txt(6, 116, "8HR-RT", ORA)
txt(6, 146, "4379.25", ORA)
txt(6, 193, "SR3-MP75UP", YEL)
txt(6, 223, "4374.25", YEL)
txt(6, 276, "4369.75", "black", bg=LBL, pad=2)
txt(6, 327, "SR2-MP75UP", WHITE)
txt(6, 339, "8HR-MP50", "#0a0aff", bg=LBL, pad=2)
txt(6, 369, "4364.75", "#0a0aff", bg=LBL, pad=2)
txt(6, 406, "4361.25", "black", bg=LBL, pad=2)
txt(6, 454, "SR1-MP75", "#0b5e0b", bg=LBL, pad=2)
txt(6, 483, "4357.25", "#0b5e0b", bg=LBL, pad=2)
txt(6, 537, "4352.75", "black", bg=LBL, pad=2)
txt(6, 561, "8HR-BS", ORA, bg=LBL, pad=2)
txt(12, 595, "SR1-MP75DN", WHITE)
txt(6, 591, "4350.25", "#ffb347", bg=BG)
txt(0, 591, "DSR", ORA, bg=BG)
txt(6, 626, "4348.00", WHITE)
txt(6, 660, "4344.75", "black")
txt(8, 710, "Momentum\u00a0\u00a0<span style='color:#00ff00'>Momentum: 100.063</span>\u00a0\u00a0Moving Average: 100.138\u00a0\u00a0100 Line: 1",
    WHITE)
txt(8, 806, "Volume\u00a0\u00a0<span style='color:#00ff00'>Volume: 7256</span>", WHITE)
txt(739, 127, "4379.50", "black", bg="#ffffff", xanchor='center', pad=1)
txt(764, 861, "5 E", "#ffffff", size=22, bg="#00c000", xanchor='center', w=40, h=26)

# ======================= PANEL 2 =======================
dbox('x4', 'y4', P2X(826), P2X(1190), P2_BOX[0], P2_BOX[1])
hline('x4', 'y4', P2_LEVELS[0], P2X(795), P2X(1183), PYEL, 1.2)
hline('x4', 'y4', P2_LEVELS[1], P2X(795), P2X(1183), PYEL, 1.2)
hline('x4', 'y4', P2_LEVELS[2], P2X(795), P2X(1183), PYEL, 1.2)
hline('x4', 'y4', P2_LEVELS[3], P2X(797), P2X(1178), ORA, 2, "6px,3px,2px,3px")
candles(P2_OPEN, P2_HIGH, P2_LOW, P2_CLOSE, 'x4', 'y4', GREEN, BLUE2, 0.7, 0.14)
line(P2_MA_SLOW_X, P2_MA_SLOW, 'x4', 'y4', MA_O, 2.5)
line(P2_MA_FAST_X, P2_MA_FAST, 'x4', 'y4', MA_G, 2)
line(P2_TREND_X, P2_TREND_Y, 'x4', 'y4', PYEL, 1)
arrow('x4', 'y4', P2X(1049), P2_BOX[1], P2X(1049), P2Y(67), PYEL, True, 2)
arrow('x4', 'y4', P2X(1081), P2Y(64), P2X(1081), P2Y(70), ORA, False)
arrow('x4', 'y4', P2X(992), P2Y(424), P2X(992), P2Y(513), ORA, False, 2)
shapes.append(dict(type='path', xref='paper', yref='paper', xsizemode='pixel', ysizemode='pixel',
                   xanchor=fx(1009), yanchor=fy(771), path="M -5 -5 L 0 0 L 5 -5",
                   line=dict(color=PYEL, width=2), layer='above'))
txt(826, 146, "4383.50", "black", size=17, family=SANS)
txt(826, 465, "4350.00", "black", size=17, family=SANS)
txt(797, 53, "CBV][M]\u00a0\u00a015 Min\u00a0\u00a0\u00a0#3 2021-07-14 08:30:25", WHITE)
txt(797, 792, "<span style='color:#00ff00'>Momentum: 100.332</span>\u00a0\u00a0Moving Average: 1", WHITE)
txt(1223, 193, "4379.50", "black", bg="#ffffff", xanchor='center', pad=1)
txt(1258, 866, "3", "#ffffff", size=22, bg="#00c000", xanchor='center', w=22, h=28)

# ======================= PANEL 3 =======================
dbox('x6', 'y6', P3X(1462), P3X(1805), P3_BOX[0], P3_BOX[1])
p3_styles = [
    ('black', 1.2, DASHDOT, 1356, 1728),
    (PYEL, 1.2, 'solid', 1283, 1820),
    (PYEL, 1.2, 'solid', 1283, 1820),
    (PYEL, 1.2, 'solid', 1379, 1820),
    (ORA, 2, "6px,3px,2px,3px", 1284, 1728),
    ('black', 1.2, DASHDOT, 1356, 1728),
    (PYEL, 1.2, 'solid', 1283, 1820),
]
for lv, (col, wd, ds, a, b) in zip(P3_LEVELS, p3_styles):
    hline('x6', 'y6', lv, P3X(a), P3X(b), col, wd, ds)
candles(P3_OPEN, P3_HIGH, P3_LOW, P3_CLOSE, 'x6', 'y6', GREEN, BLUE1, 0.65, 0.27)
line(P3_MA_SLOW_X, P3_MA_SLOW, 'x6', 'y6', MA_O, 2.5)
line(P3_MA_FAST_X, P3_MA_FAST, 'x6', 'y6', MA_G, 2)
line(P3_TREND_X, P3_TREND_Y, 'x6', 'y6', PYEL, 1)
arrow('x6', 'y6', P3X(1630), P3_BOX[1], P3X(1630), P3Y(63), PYEL, True, 2)
arrow('x6', 'y6', P3X(1654), P3Y(80), P3X(1654), P3Y(101), ORA, False, 2)
arrow('x6', 'y6', P3X(1588), P3Y(293), P3X(1588), P3Y(341), ORA, False, 2)
arrow('x6', 'y6', P3X(1600), P3Y(504), P3X(1600), P3Y(482), PYEL, True, 2)
arrow('x6', 'y6', P3X(1600), P3Y(508), P3X(1600), P3Y(535), ORA, False, 2)
hline('x7', 'y7', 100.0, P3X(1288), P3X(1727), 'white', 1.5, layer='below')
line(P3_MOM_MA_X, P3_MOM_MA, 'x7', 'y7', '#6f6f6f', 1)
line(P3_MOM_X, P3_MOM, 'x7', 'y7', '#00ff00', 1)

txt(1287, 49, "ESU21-CME [CV][M]\u00a0\u00a030 Min\u00a0\u00a0\u00a0#4 2021-07-14 08:30:25 V:", WHITE)
txt(1285, 82, "4397.25", "black")
txt(1462, 137, "4383.50", "black", size=18, family=SANS)
txt(1462, 321, "4350.00", "black", size=18, family=SANS)
txt(1284, 217, "SS\u00a0\u00a04371.75", PYEL, size=18, family=SANS)
txt(1284, 266, "SS\u00a0\u00a04361.50", PYEL, size=18, family=SANS)
txt(1284, 283, "SR1", ORA, size=18, family=SANS)
txt(1319, 287, "SS\u00a0\u00a04357.00", PYEL, size=18, family=SANS)
txt(1285, 312, "4352.25", ORA, size=19, family=SANS)
txt(1281, 397, "R", ORA, size=18, family=SANS)
txt(1285, 513, "4306.75", "black")
txt(1284, 637, "SS\u00a0\u00a04283.50", PYEL, size=18, family=SANS)
txt(1287, 698, "Momentum\u00a0\u00a0<span style='color:#00ff00'>Momentum: 100.511</span>\u00a0\u00a0Moving Average: 10",
    WHITE)
txt(1860, 167, "4379.50", "black", bg="#ffffff", xanchor='center', pad=1)
txt(1898, 855, "5", "#ffffff", size=22, bg="#00c000", xanchor='center', w=28, h=26)

fig.update_layout(width=W, height=H, margin=dict(l=0, r=0, t=0, b=0), autosize=False,
                  paper_bgcolor="#e9eef4", plot_bgcolor=BG, showlegend=False,
                  barmode='overlay', shapes=shapes, annotations=ann, **layout_axes)

fig.write_html("out.html", include_plotlyjs=True, full_html=True,
               config={'displayModeBar': False, 'staticPlot': True},
               post_script="document.body.style.margin='0';document.body.style.overflow='hidden';")
